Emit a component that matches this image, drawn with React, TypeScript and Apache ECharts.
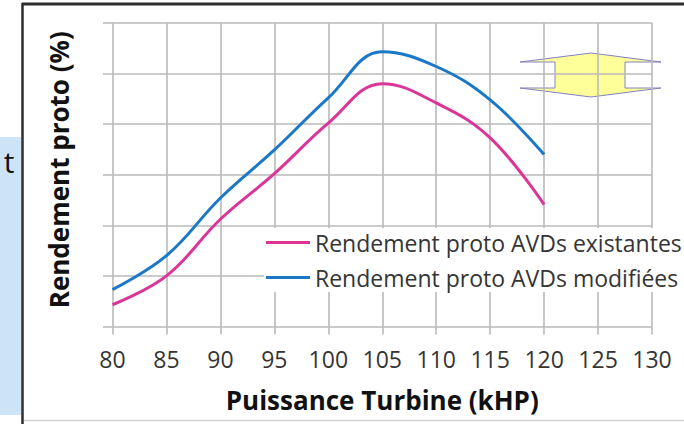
import React, { useEffect, useRef } from "react";
import * as echarts from "echarts";

const powers = [80, 85, 90, 95, 100, 105, 110, 115, 120];
const existing = [0.43, 1.0, 2.12, 3.02, 4.02, 4.8, 4.42, 3.73, 2.41];
const modified = [0.73, 1.4, 2.54, 3.49, 4.52, 5.43, 5.14, 4.48, 3.4];
const seriesNames = ["Rendement proto AVDs existantes", "Rendement proto AVDs modifiées"];
const xTitle = "Puissance Turbine (kHP)";
const yTitle = "Rendement proto (%)";

const FONT = "'Open Sans', 'Noto Sans', sans-serif";
const GRID_COLOR = "#bababa";

export default function App() {
  const ref = useRef<HTMLDivElement>(null);
  useEffect(() => {
    if (!ref.current) return;
    const chart = echarts.init(ref.current, null, { renderer: "svg" });
    const pair = (ys: number[]) => powers.map((x, i) => [x, ys[i]]);
    chart.setOption({
      animation: false,
      backgroundColor: "#ffffff",
      grid: [
        { left: 103, right: 32, top: 23, bottom: 97.5 },
        { left: 112.5, right: 32, top: 23, bottom: 97.5 },
      ],
      xAxis: [
        { gridIndex: 0, type: "value", min: 0, max: 1, show: false },
        {
          gridIndex: 1,
          type: "value",
          min: 80,
          max: 130,
          interval: 5,
          axisLine: { show: false },
          axisTick: { show: true, length: 8, lineStyle: { color: GRID_COLOR, width: 1.6 } },
          splitLine: { show: true, lineStyle: { color: GRID_COLOR, width: 1.6 } },
          axisLabel: { margin: 21, fontSize: 23, color: "#353535", fontFamily: FONT },
          name: xTitle,
          nameLocation: "middle",
          nameGap: 60,
          nameTextStyle: { fontSize: 26, fontWeight: "bold", color: "#111", fontFamily: FONT },
        },
      ],
      yAxis: [
        {
          gridIndex: 0,
          type: "value",
          min: 0,
          max: 6,
          interval: 1,
          axisLine: { show: false },
          axisTick: { show: false },
          axisLabel: { show: false },
          splitLine: { show: true, lineStyle: { color: GRID_COLOR, width: 1.6 } },
          name: yTitle,
          nameLocation: "middle",
          nameRotate: 90,
          nameGap: 31,
          nameTextStyle: {
            fontSize: 26,
            fontWeight: "bold",
            color: "#111",
            fontFamily: FONT,
            padding: [0, 0, 0, 10],
          },
        },
        { gridIndex: 1, type: "value", min: 0, max: 6, show: false },
      ],
      legend: {
        orient: "vertical",
        left: 264,
        top: 228,
        icon: "rect",
        itemWidth: 44,
        itemHeight: 3,
        itemGap: 12,
        backgroundColor: "#ffffff",
        padding: [3, 10, 3, 2],
        data: seriesNames,
        textStyle: { fontSize: 23, color: "#353535", fontFamily: FONT },
      },
      series: [
        {
          name: seriesNames[0],
          type: "line",
          xAxisIndex: 1,
          yAxisIndex: 1,
          data: pair(existing),
          smooth: 0.4,
          showSymbol: false,
          lineStyle: { color: "#db3598", width: 3 },
          itemStyle: { color: "#db3598" },
        },
        {
          name: seriesNames[1],
          type: "line",
          xAxisIndex: 1,
          yAxisIndex: 1,
          data: pair(modified),
          smooth: 0.4,
          showSymbol: false,
          lineStyle: { color: "#1b78c6", width: 3 },
          itemStyle: { color: "#1b78c6" },
        },
      ],
      graphic: [
        { type: "rect", shape: { x: 0, y: 137, width: 21, height: 278 }, style: { fill: "#cde3f6" } },
        {
          type: "text",
          x: 9,
          y: 161,
          style: { text: "t", fontSize: 30, fill: "#111", fontFamily: FONT, align: "center", verticalAlign: "middle" },
        },
        { type: "line", shape: { x1: 22, y1: 4, x2: 684, y2: 4 }, style: { stroke: "#2e2e2e", lineWidth: 3 } },
        { type: "line", shape: { x1: 22.5, y1: 3, x2: 22.5, y2: 424 }, style: { stroke: "#2e2e2e", lineWidth: 2.5 } },
        { type: "line", shape: { x1: 24, y1: 420.5, x2: 684, y2: 420.5 }, style: { stroke: "#d4d4d4", lineWidth: 1.5 } },
        {
          type: "polygon",
          shape: {
            points: [
              [591, 53],
              [520, 62],
              [555, 62],
              [555, 88],
              [520, 88],
              [591, 97],
              [661, 88],
              [625, 88],
              [625, 62],
              [661, 62],
            ],
          },
          style: { fill: "#ffff99", stroke: "#8282c4", lineWidth: 1 },
        },
      ],
    });
    return () => chart.dispose();
  }, []);
  return <div ref={ref} style={{ position: "fixed", left: 0, top: 0, width: 684, height: 424 }} />;
}
